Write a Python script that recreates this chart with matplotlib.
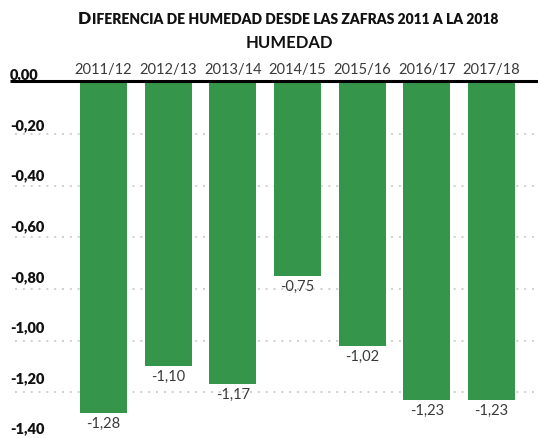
import matplotlib
matplotlib.use("Agg")
import matplotlib.pyplot as plt
from matplotlib.offsetbox import TextArea, HPacker, AnnotationBbox

categories = ["2011/12", "2012/13", "2013/14", "2014/15", "2015/16", "2016/17", "2017/18"]
values = [-1.28, -1.10, -1.17, -0.75, -1.02, -1.23, -1.23]
yticks = [0.0, -0.2, -0.4, -0.6, -0.8, -1.0, -1.2, -1.4]

GREEN = "#35964B"
FONT = "Lato"

def fmt(v):
    return f"{v:.2f}".replace(".", ",")

fig = plt.figure(figsize=(5.38, 4.38), dpi=100)
W, H = 538, 438
top_px = 82.5
scale = 258.0
ax = fig.add_axes([10 / W, 0, 1 - 10 / W, (H - top_px) / H])
ax.set_xlim(-1.446, 6.719)
ax.set_ylim(-(H - top_px) / scale, 0)
ax.axis("off")

x = list(range(len(categories)))
ax.bar(x, values, width=0.727, color=GREEN, zorder=2)

# gridlines
for t in yticks[1:]:
    ax.plot([-1.37, 6.72], [t, t], color="#c8c8c8", lw=1.2,
            linestyle=(0, (1.2, 3.5)), zorder=1, clip_on=False)
# zero line
ax.plot([-1.446, 6.719], [0.006, 0.006], color="black", lw=2.2, zorder=3, clip_on=False,
        solid_capstyle="butt")

# y labels
for t in yticks:
    ylab = t * 0.9806 + 0.029
    ax.text(-1.446, ylab, ("-" if t < 0 else "") + fmt(abs(t)), ha="left", va="center",
            fontsize=10.5, fontweight="heavy", family=FONT, color="#111111", clip_on=False)

# category labels
for xi, c in zip(x, categories):
    ax.text(xi, 0.048, c, ha="center", va="center", fontsize=10.5, fontweight="normal",
            family=FONT, color="#3a3a3a", clip_on=False, zorder=5)

# value labels
for xi, v in zip(x, values):
    ax.text(xi, v - 0.042, "-" + fmt(abs(v)), ha="center", va="center", fontsize=10.5,
            fontweight="normal", family=FONT, color="#3a3a3a", clip_on=False, zorder=5)

# title in small caps
t1 = TextArea("D", textprops=dict(fontsize=12.5, fontweight="heavy", family=FONT, color="#111111"))
t2 = TextArea("IFERENCIA DE HUMEDAD DESDE LAS ZAFRAS 2011 A LA 2018",
              textprops=dict(fontsize=10, fontweight="heavy", family=FONT, color="#111111"))
pack = HPacker(children=[t1, t2], align="baseline", pad=0, sep=0.5)
ab = AnnotationBbox(pack, (288 / W, 1 - 19 / H), xycoords="figure fraction",
                    box_alignment=(0.5, 0.5), frameon=False, pad=0)
fig.add_artist(ab)

fig.text(289 / W, 1 - 43 / H, "HUMEDAD", ha="center", va="center", fontsize=12,
         fontweight="bold", family=FONT, color="#111111")

fig.savefig("out.png", dpi=100)
